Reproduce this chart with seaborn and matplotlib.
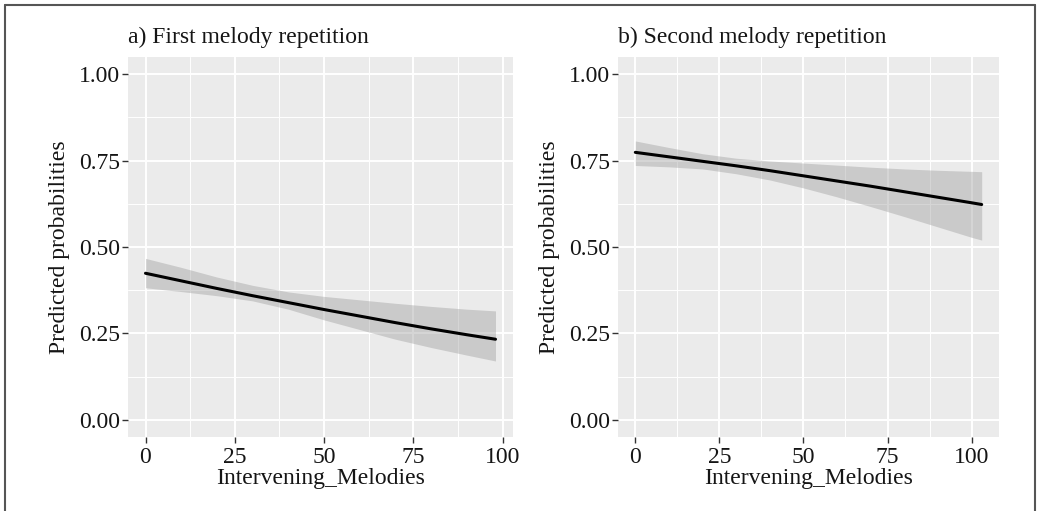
import numpy as np
import pandas as pd
import matplotlib
matplotlib.use("Agg")
import matplotlib.pyplot as plt
from matplotlib.lines import Line2D
from matplotlib.ticker import MultipleLocator
import seaborn as sns

# ---- data ----
x_a = [0, 10, 20, 30, 40, 50, 60, 70, 80, 90, 98]
fit_a = [0.424, 0.402, 0.380, 0.359, 0.339, 0.319, 0.300, 0.281, 0.263, 0.246, 0.233]
upper_a = [0.467, 0.441, 0.413, 0.389, 0.370, 0.357, 0.347, 0.337, 0.328, 0.320, 0.315]
lower_a = [0.382, 0.371, 0.359, 0.344, 0.320, 0.289, 0.261, 0.233, 0.209, 0.187, 0.170]

x_b = [0, 10, 20, 30, 40, 50, 60, 70, 80, 90, 100, 103]
fit_b = [0.774, 0.761, 0.748, 0.735, 0.721, 0.706, 0.691, 0.676, 0.660, 0.644, 0.628, 0.623]
upper_b = [0.807, 0.788, 0.770, 0.757, 0.749, 0.743, 0.737, 0.731, 0.726, 0.722, 0.719, 0.718]
lower_b = [0.736, 0.732, 0.726, 0.712, 0.694, 0.671, 0.645, 0.617, 0.588, 0.558, 0.528, 0.520]

titles = ["a) First melody repetition", "b) Second melody repetition"]
x_label = "Intervening_Melodies"
y_label = "Predicted probabilities"
y_ticks = [0.00, 0.25, 0.50, 0.75, 1.00]
y_tick_labels = ["0.00", "0.25", "0.50", "0.75", "1.00"]
x_ticks = [0, 25, 50, 75, 100]
x_tick_labels = ["0", "25", "50", "75", "100"]

sns.set_theme(style="darkgrid", rc={
    "axes.facecolor": "#EBEBEB",
    "grid.color": "white",
})
plt.rcParams["font.family"] = ["Liberation Serif", "DejaVu Serif"]

W, H = 1049, 511
fig = plt.figure(figsize=(W / 100, H / 100), dpi=100)
fig.patch.set_facecolor("white")

panels = [
    (128, 513, x_a, fit_a, upper_a, lower_a),
    (618, 999, x_b, fit_b, upper_b, lower_b),
]
top_px, bot_px = 57, 437
FS = 17
TXT = "#151515"

for i, (l, r, xs, fit, up, lo) in enumerate(panels):
    ax = fig.add_axes([l / W, 1 - bot_px / H, (r - l) / W, (bot_px - top_px) / H])
    df = pd.DataFrame({"x": xs, "fit": fit, "upper": up, "lower": lo})
    ax.fill_between(df["x"], df["lower"], df["upper"], color="#999999", alpha=0.4,
                    linewidth=0, zorder=2)
    sns.lineplot(data=df, x="x", y="fit", ax=ax, color="black", linewidth=2.2,
                 zorder=3, legend=False)
    xmax = max(xs)
    pad = 0.05 * xmax
    ax.set_xlim(-pad, xmax + pad)
    ax.set_ylim(-0.05, 1.05)
    ax.set_xticks(x_ticks)
    ax.set_xticklabels(x_tick_labels)
    ax.set_yticks(y_ticks)
    ax.set_yticklabels(y_tick_labels)
    ax.xaxis.set_minor_locator(MultipleLocator(12.5))
    ax.yaxis.set_minor_locator(MultipleLocator(0.125))
    ax.grid(which="major", color="white", linewidth=1.4)
    ax.grid(which="minor", color="white", linewidth=0.7)
    ax.set_axisbelow(True)
    for s in ax.spines.values():
        s.set_visible(False)
    ax.tick_params(axis="both", which="major", length=4, width=1.0, color="#333333",
                   labelsize=FS, labelcolor=TXT, bottom=True, left=True)
    ax.tick_params(axis="x", which="major", pad=3)
    ax.tick_params(axis="y", which="major", pad=2)
    ax.tick_params(axis="both", which="minor", length=0)
    ax.set_xlabel(x_label, fontsize=FS, color=TXT, labelpad=0.5)
    ax.set_ylabel(y_label, fontsize=FS, color=TXT, labelpad=6)
    ax.set_title(titles[i], loc="left", fontsize=FS, color=TXT, pad=10)

# outer frame
frame_col = "#555555"
fig.add_artist(Line2D([5 / W, 5 / W], [0, 1 - 5 / H], transform=fig.transFigure,
                      color=frame_col, linewidth=1.5))
fig.add_artist(Line2D([5 / W, 1035 / W], [1 - 5 / H, 1 - 5 / H], transform=fig.transFigure,
                      color=frame_col, linewidth=1.5))
fig.add_artist(Line2D([1035 / W, 1035 / W], [0, 1 - 5 / H], transform=fig.transFigure,
                      color=frame_col, linewidth=1.5))

fig.savefig("out.png", dpi=100)
